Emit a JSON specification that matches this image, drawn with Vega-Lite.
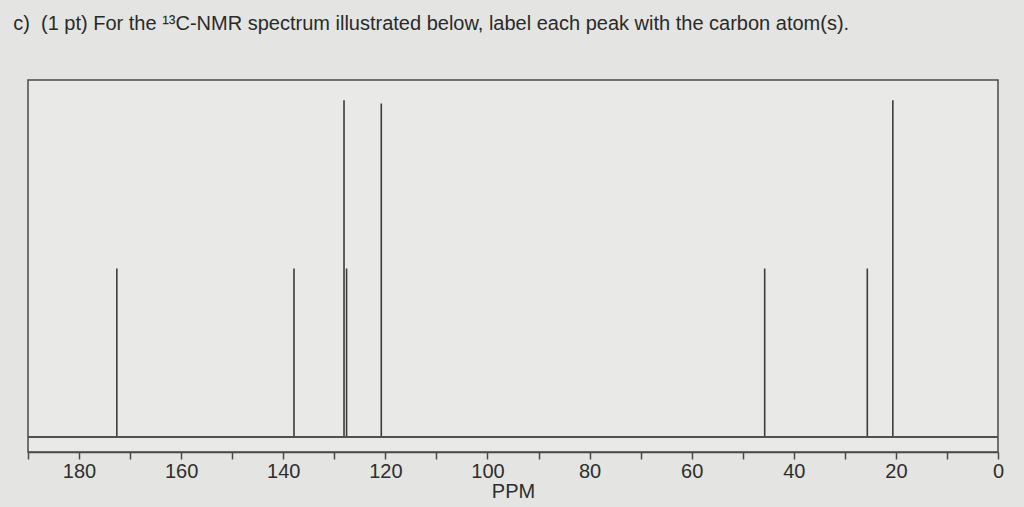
{
  "$schema": "https://vega.github.io/schema/vega-lite/v6.json",
  "width": 970,
  "height": 372,
  "padding": {"left": 28, "top": 80, "right": 26, "bottom": 55},
  "autosize": {"type": "none"},
  "background": "#e4e4e2",
  "config": {
    "view": {"stroke": "#4a4a4a", "strokeWidth": 1.5, "fill": "#e9e9e7"},
    "font": "Liberation Sans"
  },
  "title": {
    "text": "c)\u00a0\u00a0(1 pt) For the ¹³C-NMR spectrum illustrated below, label each peak with the carbon atom(s).",
    "anchor": "start",
    "dx": -14,
    "offset": 46,
    "fontSize": 20,
    "fontWeight": "normal",
    "color": "#2a2a2a",
    "font": "Liberation Sans"
  },
  "datasets": {
    "peaks": [
      {"ppm": 172.6, "intensity": 50},
      {"ppm": 137.9, "intensity": 50},
      {"ppm": 128.1, "intensity": 100},
      {"ppm": 127.6, "intensity": 50},
      {"ppm": 120.8, "intensity": 99},
      {"ppm": 45.7, "intensity": 50},
      {"ppm": 25.6, "intensity": 50},
      {"ppm": 20.6, "intensity": 100}
    ]
  },
  "data": {"name": "peaks"},
  "layer": [
    {
      "mark": {"type": "rule", "color": "#3c3c3c", "strokeWidth": 1.6},
      "encoding": {
        "x": {
          "field": "ppm",
          "type": "quantitative",
          "title": "PPM",
          "scale": {"domain": [190, 0], "nice": false, "zero": false},
          "axis": {
            "values": [190, 180, 170, 160, 150, 140, 130, 120, 110, 100, 90, 80, 70, 60, 50, 40, 30, 20, 10, 0],
            "labelExpr": "datum.value % 20 === 0 ? datum.label : ''",
            "grid": false,
            "domainColor": "#4a4a4a",
            "domainWidth": 1.5,
            "tickColor": "#4a4a4a",
            "tickWidth": 1.5,
            "tickSize": 7,
            "labelFontSize": 20,
            "labelColor": "#2e2e2e",
            "labelFlush": false,
            "labelOverlap": false,
            "labelPadding": 2,
            "titleFontSize": 20,
            "titleFontWeight": "normal",
            "titleColor": "#2e2e2e",
            "titlePadding": 0
          }
        },
        "y": {"field": "intensity", "type": "quantitative", "scale": {"domain": [-4.5, 106], "nice": false, "zero": false}, "axis": null},
        "y2": {"datum": 0}
      }
    },
    {
      "mark": {"type": "rule", "color": "#505050", "strokeWidth": 1.5},
      "encoding": {"y": {"datum": 0, "type": "quantitative"}}
    }
  ]
}
